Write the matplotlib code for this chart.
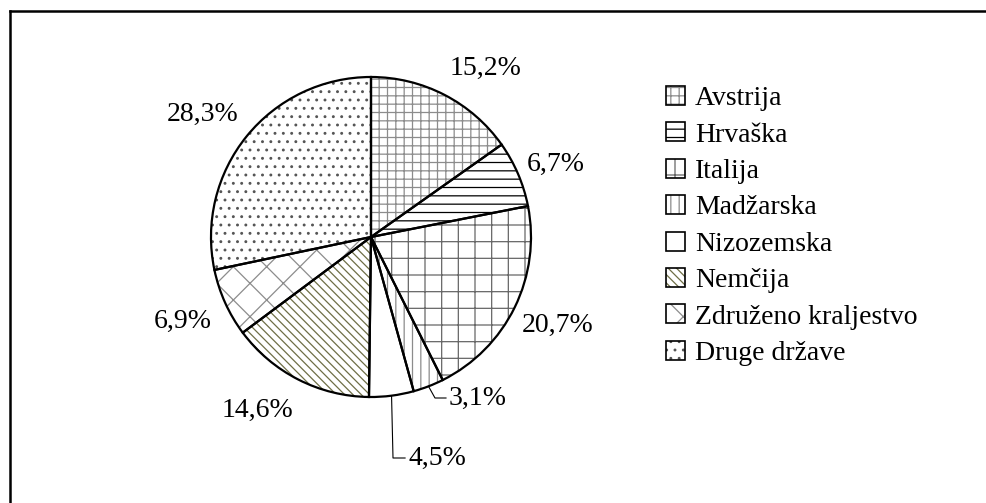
import numpy as np
import matplotlib
matplotlib.use("Agg")
import matplotlib.pyplot as plt
from matplotlib.patches import Patch
from matplotlib.lines import Line2D
from matplotlib.legend_handler import HandlerTuple

plt.rcParams['font.family'] = ['Liberation Serif', 'DejaVu Serif']
plt.rcParams['hatch.linewidth'] = 0.9

# data
countries = ['Avstrija', 'Hrvaška', 'Italija', 'Madžarska', 'Nizozemska',
             'Nemčija', 'Združeno kraljestvo', 'Druge države']
shares = [15.2, 6.7, 20.7, 3.1, 4.5, 14.6, 6.9, 28.3]
share_labels = ['15,2%', '6,7%', '20,7%', '3,1%', '4,5%', '14,6%', '6,9%', '28,3%']

# styles
hatches = ['++', '--', '+', '||', '', '\\\\\\\\', 'x', '..']
hatch_colors = ['#8c8c8c', '#000000', '#666666', '#8c8c8c', '#000000',
                '#6e6e46', '#8c8c8c', '#555555']
face_colors = ['white'] * 8

W, H, DPI = 987, 503, 100
cx, cy, R = 371, 237, 160   # pie centre / radius in pixels

# label centres in pixels (from top-left)
label_pos = [(486, 68), (556, 164), (558, 325), (478, 398),
             (437, 458), (257, 410), (183, 321), (203, 114)]
# leader elbows (pixel x) for small slices, None = no leader
elbow_x = [None, None, None, 435, 393, None, None, None]
fs = 20

fig = plt.figure(figsize=(W / DPI, H / DPI), dpi=DPI)
ax = fig.add_axes([0, 0, 1, 1])

# hatch layer
wedges, _ = ax.pie(shares, startangle=90, counterclock=False, radius=1,
                   colors=face_colors, wedgeprops=dict(linewidth=0))
for w, h, c in zip(wedges, hatches, hatch_colors):
    w.set_hatch(h)
    w.set_edgecolor(c)
    w.set_linewidth(0)
# outline layer
ax.pie(shares, startangle=90, counterclock=False, radius=1,
       wedgeprops=dict(fill=False, edgecolor='black', linewidth=1.6))

ax.set_xlim(-cx / R, (W - cx) / R)
ax.set_ylim(-(H - cy) / R, cy / R)
ax.set_aspect('auto')
ax.axis('off')


def to_data(px, py):
    return (px - cx) / R, (cy - py) / R


renderer = fig.canvas.get_renderer()
for w, lab, (px, py), ex_px in zip(wedges, share_labels, label_pos, elbow_x):
    tx, ty = to_data(px, py)
    t = ax.text(tx, ty, lab, ha='center', va='center', fontsize=fs)
    if ex_px is not None:
        bb = t.get_window_extent(renderer)
        left = (bb.x0 - cx) / R
        mid = np.deg2rad((w.theta1 + w.theta2) / 2)
        ex, ey = np.cos(mid), np.sin(mid)
        ax.plot([ex, (ex_px - cx) / R, left - 3 / R], [ey, ty, ty],
                color='black', lw=0.8)

# legend
handles = []
for h, c, f in zip(hatches, hatch_colors, face_colors):
    handles.append((Patch(facecolor=f, edgecolor=c, hatch=h, linewidth=0),
                    Patch(fill=False, edgecolor='black', linewidth=1.2)))
fig.legend(handles, countries, handler_map={tuple: HandlerTuple(ndivide=1, pad=0)},
           loc='upper left', bbox_to_anchor=(666 / W, 1 - 86 / H),
           frameon=False, fontsize=fs, handlelength=0.68, handleheight=0.68,
           handletextpad=0.36, labelspacing=0.4, borderaxespad=0, borderpad=0)

# frame (top and left only)
fig.add_artist(Line2D([9.7 / W, 1], [1 - 11.3 / H, 1 - 11.3 / H],
                      transform=fig.transFigure, color='black', lw=1.8))
fig.add_artist(Line2D([9.7 / W, 9.7 / W], [0, 1 - 11.3 / H],
                      transform=fig.transFigure, color='black', lw=1.8))

fig.savefig('out.png', dpi=DPI)
